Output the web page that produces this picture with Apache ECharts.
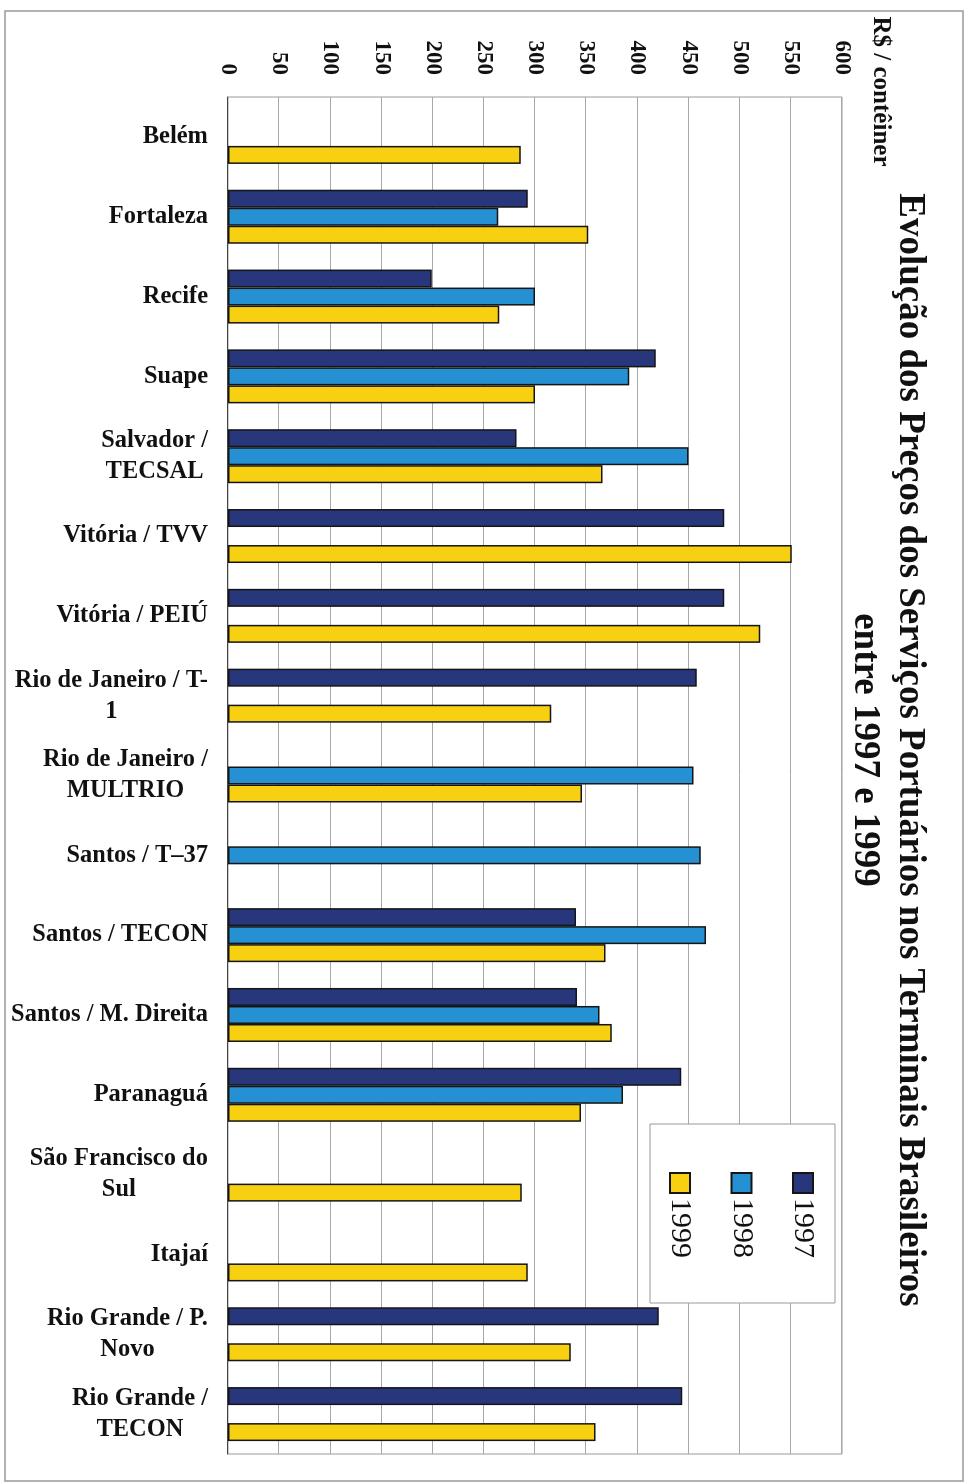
<!DOCTYPE html>
<html>
<head>
<meta charset="utf-8">
<script src="https://cdn.jsdelivr.net/npm/echarts@6/dist/echarts.min.js"></script>
<style>
  html, body { margin: 0; padding: 0; background: #fff; }
  /* the page is a scan turned on its side: draw upright, then turn it */
  #main {
    position: absolute; left: 0; top: 0;
    width: 1484px; height: 965px;
    transform-origin: 0 0;
    transform: translate(965px, 0) rotate(90deg);
  }
</style>
</head>
<body>
<div id="main"></div>
<script>
const categories = [
  'Belém', 'Fortaleza', 'Recife', 'Suape', 'Salvador /\nTECSAL',
  'Vitória / TVV', 'Vitória / PEIÚ', 'Rio de Janeiro / T-\n1',
  'Rio de Janeiro /\nMULTRIO', 'Santos / T–37', 'Santos / TECON',
  'Santos / M. Direita', 'Paranaguá', 'São Francisco do\nSul', 'Itajaí',
  'Rio Grande / P.\nNovo', 'Rio Grande /\nTECON'
];
const v1997 = [null, 293, 199, 418, 282, 485, 485, 458, null, null, 340, 341, 443, null, null, 421, 444];
const v1998 = [null, 264, 300, 392, 450, null, null, null, 455, 462, 467, 363, 386, null, null, null, null];
const v1999 = [286, 352, 265, 300, 366, 551, 520, 316, 346, null, 369, 375, 345, 287, 293, 335, 359];

const serif = "'Liberation Serif', 'Times New Roman', serif";

const chart = echarts.init(document.getElementById('main'), null, { width: 1484, height: 965 });

function bar(name, data, color) {
  return {
    name: name,
    type: 'bar',
    data: data,
    barWidth: 18,
    barGap: '0%',
    itemStyle: { color: color, borderColor: '#151515', borderWidth: 1.5 }
  };
}

chart.setOption({
  backgroundColor: '#fff',
  animation: false,
  title: {
    text: 'Evolução dos Preços dos Serviços Portuários nos Terminais Brasileiros\nentre 1997 e 1999',
    left: 750,
    textAlign: 'center',
    top: 33,
    padding: 0,
    textStyle: { fontFamily: serif, fontWeight: 'bold', fontSize: 37, lineHeight: 45, color: '#111' }
  },
  legend: {
    orient: 'vertical',
    left: 1124,
    top: 130,
    padding: [17, 45, 15, 48],
    itemGap: 31.5,
    itemWidth: 20,
    itemHeight: 20,
    icon: 'rect',
    backgroundColor: '#fff',
    borderColor: '#999',
    borderWidth: 1,
    textStyle: { fontFamily: serif, fontSize: 30, lineHeight: 28, color: '#111' }
  },
  graphic: [{
    type: 'rect',
    shape: { x: 11, y: 2, width: 1470, height: 958 },
    style: { fill: 'none', stroke: '#999', lineWidth: 1.5 },
    silent: true
  }],
  grid: {
    left: 97, right: 30, top: 123, bottom: 228,
    show: true, borderColor: '#999', borderWidth: 1
  },
  xAxis: {
    type: 'category',
    data: categories,
    axisLine: { lineStyle: { color: '#444', width: 1.2 } },
    axisTick: { length: 8, lineStyle: { color: '#444' } },
    axisLabel: {
      interval: 0,
      rotate: 90,
      margin: 20,
      formatter: function (v) {
        return v.split('\n').map(function (s) { return '{c|' + s + '}'; }).join('\n');
      },
      rich: {
        c: { align: 'center', fontFamily: serif, fontWeight: 'bold', fontSize: 24.5, lineHeight: 31, color: '#111' }
      }
    }
  },
  yAxis: {
    type: 'value',
    min: 0,
    max: 600,
    interval: 50,
    name: 'R$ / contêiner',
    nameLocation: 'end',
    nameGap: 26,
    nameTextStyle: { fontFamily: serif, fontWeight: 'bold', fontSize: 25, color: '#111', padding: [0, 11, 0, 0] },
    axisLine: { show: false },
    axisTick: { show: false },
    axisLabel: { margin: 22, fontFamily: serif, fontWeight: 'bold', fontSize: 23, color: '#111' },
    splitLine: { lineStyle: { color: '#a8a8a8', width: 1 } }
  },
  series: [
    bar('1997', v1997, '#28377c'),
    bar('1998', v1998, '#2591d3'),
    bar('1999', v1999, '#f8d012')
  ]
});
</script>
</body>
</html>
